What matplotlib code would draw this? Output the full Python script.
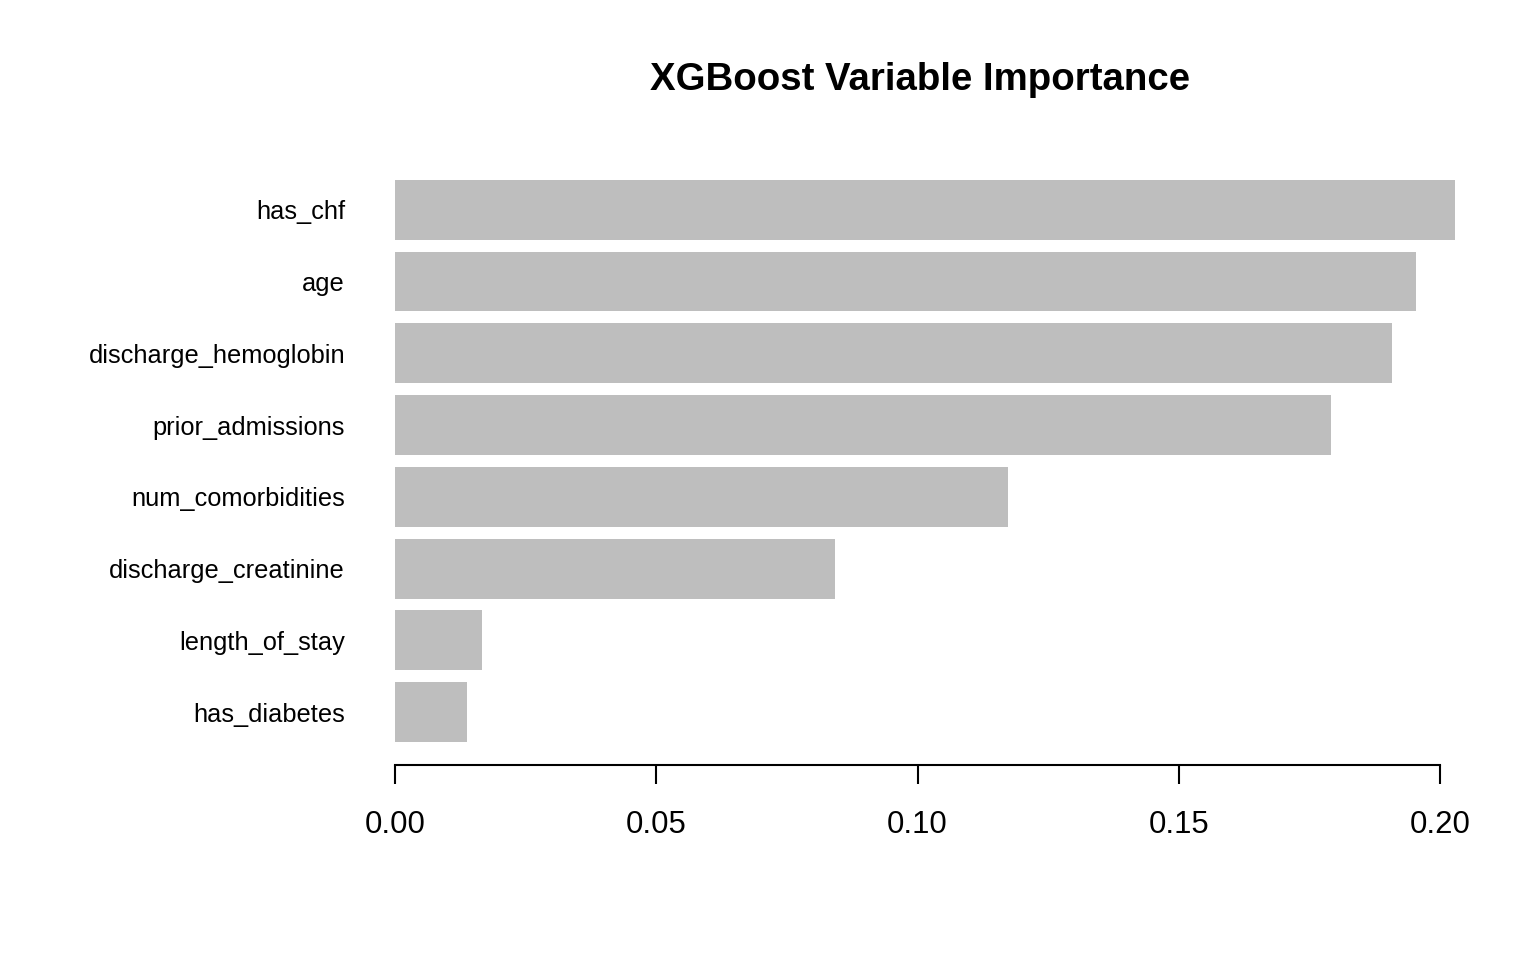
import matplotlib
matplotlib.use('Agg')
from matplotlib import pyplot as plt

features = ['has_diabetes', 'length_of_stay', 'discharge_creatinine', 'num_comorbidities',
            'prior_admissions', 'discharge_hemoglobin', 'age', 'has_chf']
importance = [0.0138, 0.0167, 0.0842, 0.1173, 0.1791, 0.1908, 0.1954, 0.2029]

plt.rcParams['font.family'] = ['Liberation Sans', 'DejaVu Sans']

W, H = 1536, 960
# pixel mapping: x=0 -> 395px, x=0.2 -> 1440px
px_per_unit = (1440 - 395) / 0.2
xmin, xmax = -0.0081, 0.2110
left_px = 395 + xmin * px_per_unit
right_px = 395 + xmax * px_per_unit
top_px, bottom_px = 145, 765

fig = plt.figure(figsize=(W / 100, H / 100), dpi=100)
ax = fig.add_axes([left_px / W, 1 - bottom_px / H, (right_px - left_px) / W, (bottom_px - top_px) / H])

ypos = [0.7 + 1.2 * i for i in range(len(features))]
ax.barh(ypos, importance, height=1.0, color='#bebebe', edgecolor='none')
ax.set_xlim(xmin, xmax)
ax.set_ylim(-0.184, ypos[-1] + 1.084)

for s in ['top', 'right', 'left']:
    ax.spines[s].set_visible(False)
ax.spines['bottom'].set_bounds(0, 0.2)
ax.spines['bottom'].set_linewidth(1.5)

ticks = [0.0, 0.05, 0.10, 0.15, 0.20]
ax.set_xticks(ticks)
ax.set_xticklabels(['0.00', '0.05', '0.10', '0.15', '0.20'], fontsize=22.4)
ax.tick_params(axis='x', length=14, width=1.5, pad=18.5)

ax.set_yticks(ypos)
ax.set_yticklabels(features, fontsize=18.3)
ax.tick_params(axis='y', length=0, pad=5.5)

fig.text(920 / W, 1 - 80 / H, 'XGBoost Variable Importance',
         ha='center', va='center', fontsize=27.6, fontweight='bold')

fig.savefig('out.png', dpi=100)
